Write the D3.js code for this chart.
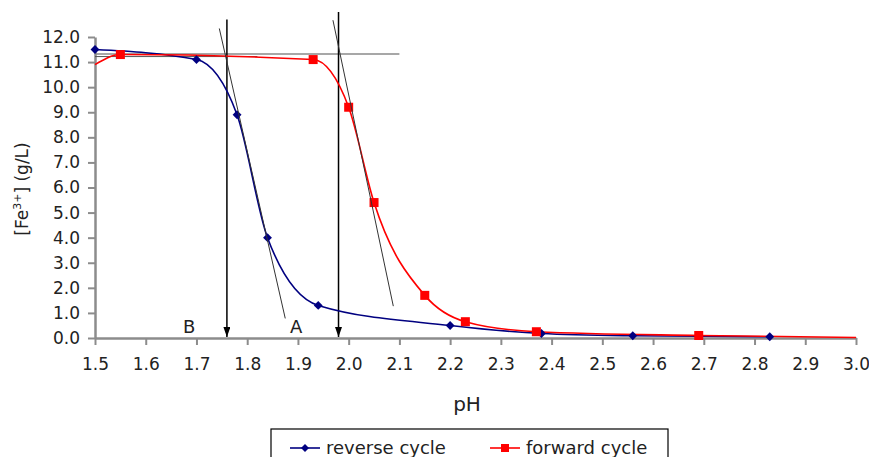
<!DOCTYPE html>
<html>
<head>
<meta charset="utf-8">
<script src="https://cdn.jsdelivr.net/npm/d3@7"></script>
<style>
  body { margin: 0; background: #fff; }
  text { font-family: "DejaVu Sans", Arial, sans-serif; fill: #222; }
</style>
</head>
<body>
<svg width="869" height="457"></svg>
<script>
// reverse cycle (blue diamonds)
const reversePH = [1.5, 1.7, 1.78, 1.84, 1.94, 2.2, 2.38, 2.56, 2.83];
const reverseFe = [11.5, 11.1, 8.9, 4.0, 1.3, 0.5, 0.18, 0.09, 0.05];
// forward cycle (red squares); first and last point have no visible marker
const forwardPH = [1.5, 1.55, 1.93, 2.0, 2.05, 2.15, 2.23, 2.37, 2.69, 3.0];
const forwardFe = [10.9, 11.3, 11.1, 9.2, 5.4, 1.7, 0.65, 0.25, 0.1, 0.02];
const xTicks = d3.range(15, 31).map(d => d / 10);
const yTicks = d3.range(0, 13);
// construction lines
const plateau = [[1.5, 11.32], [2.1, 11.32]];
const plateauShort = [[1.5, 11.22], [1.82, 11.22]];
const tangentA = [[1.745, 12.34], [1.875, 0.78]];
const tangentB = [[1.969, 12.67], [2.088, 1.27]];
const arrowB = [[1.76, 12.7], 1.76];
const arrowA = [[1.98, 13.0], 1.98];

const svg = d3.select('svg');
const x = d3.scaleLinear().domain([1.5, 3.0]).range([95, 856]);
const y = d3.scaleLinear().domain([0, 12]).range([338, 37]);

const axisColor = '#8c8c8c';

const xAxis = svg.append('g')
  .attr('transform', `translate(0,${y(0)})`)
  .call(d3.axisBottom(x).tickValues(xTicks).tickFormat(d3.format('.1f')).tickSize(7).tickSizeOuter(0));
const yAxis = svg.append('g')
  .attr('transform', `translate(${x(1.5)},0)`)
  .call(d3.axisLeft(y).tickValues(yTicks).tickFormat(d3.format('.1f')).tickSize(7).tickSizeOuter(0));
[xAxis, yAxis].forEach(g => {
  g.select('.domain').attr('stroke', axisColor).attr('stroke-width', 2.5);
  g.selectAll('.tick line').attr('stroke', axisColor).attr('stroke-width', 2);
  g.selectAll('.tick text').style('font-size', '17px').attr('fill', '#222');
});
xAxis.selectAll('.tick text').attr('y', 32).attr('dy', null);
yAxis.selectAll('.tick text').attr('x', -15);

// arrow marker
svg.append('defs').append('marker')
  .attr('id', 'arrow')
  .attr('viewBox', '0 0 10 10')
  .attr('refX', 10).attr('refY', 5)
  .attr('markerWidth', 10).attr('markerHeight', 7)
  .attr('markerUnits', 'userSpaceOnUse')
  .attr('orient', 'auto')
  .attr('preserveAspectRatio', 'none')
  .append('path').attr('d', 'M0,0L10,5L0,10Z').attr('fill', '#000');

const line = d3.line().x(d => x(d[0])).y(d => y(d[1]));

svg.append('path').attr('d', line(plateau))
  .attr('stroke', '#8a8a8a').attr('stroke-width', 1.6).attr('fill', 'none');
svg.append('path').attr('d', line(plateauShort))
  .attr('stroke', '#555').attr('stroke-width', 1).attr('fill', 'none');

[arrowB, arrowA].forEach(a => {
  svg.append('line')
    .attr('x1', x(a[0][0])).attr('y1', y(a[0][1]))
    .attr('x2', x(a[1])).attr('y2', y(0) - 1)
    .attr('stroke', '#000').attr('stroke-width', 1.5)
    .attr('marker-end', 'url(#arrow)');
});

// series
const reverse = reversePH.map((p, i) => [p, reverseFe[i]]);
const forward = forwardPH.map((p, i) => [p, forwardFe[i]]);
const smooth = d3.line().x(d => x(d[0])).y(d => y(d[1])).curve(d3.curveMonotoneX);

svg.append('path').attr('d', smooth(reverse))
  .attr('stroke', '#000080').attr('stroke-width', 1.6).attr('fill', 'none');
svg.append('path').attr('d', smooth(forward))
  .attr('stroke', '#ff0000').attr('stroke-width', 1.6).attr('fill', 'none');

const diamond = d3.symbol(d3.symbolDiamond2, 50)();
svg.selectAll('.rev').data(reverse).enter().append('path')
  .attr('class', 'rev')
  .attr('d', diamond)
  .attr('transform', d => `translate(${x(d[0])},${y(d[1])})`)
  .attr('fill', '#000080');
svg.selectAll('.fwd').data(forward.filter(d => d[0] > 1.5 && d[0] < 3.0)).enter().append('rect')
  .attr('class', 'fwd')
  .attr('x', d => x(d[0]) - 4.5).attr('y', d => y(d[1]) - 4.5)
  .attr('width', 9).attr('height', 9)
  .attr('fill', '#ff0000');

// tangents
[tangentA, tangentB].forEach(t => {
  svg.append('path').attr('d', line(t))
    .attr('stroke', '#333').attr('stroke-width', 1).attr('fill', 'none');
});

// letters
svg.append('text').attr('x', 183).attr('y', 333).text('B').style('font-size', '18px');
svg.append('text').attr('x', 290).attr('y', 333).text('A').style('font-size', '18px');

// axis titles
svg.append('text').attr('x', 467).attr('y', 411).attr('text-anchor', 'middle')
  .style('font-size', '20px').text('pH');
const yt = svg.append('text')
  .attr('transform', 'translate(28,189) rotate(-90)')
  .attr('text-anchor', 'middle')
  .style('font-size', '17px');
yt.append('tspan').text('[Fe');
yt.append('tspan').attr('dy', -7).style('font-size', '11px').text('3+');
yt.append('tspan').attr('dy', 7).text('] (g/L)');

// legend
const lg = svg.append('g');
lg.append('rect').attr('x', 271).attr('y', 429).attr('width', 397).attr('height', 40)
  .attr('fill', '#fff').attr('stroke', '#000').attr('stroke-width', 1.2);
lg.append('line').attr('x1', 290).attr('x2', 320).attr('y1', 448).attr('y2', 448)
  .attr('stroke', '#000080').attr('stroke-width', 1.6);
lg.append('path').attr('d', d3.symbol(d3.symbolDiamond2, 40)())
  .attr('transform', 'translate(305,448)').attr('fill', '#000080');
lg.append('text').attr('x', 326).attr('y', 454).style('font-size', '18px').text('reverse cycle');
lg.append('line').attr('x1', 490).attr('x2', 520).attr('y1', 448).attr('y2', 448)
  .attr('stroke', '#ff0000').attr('stroke-width', 1.6);
lg.append('rect').attr('x', 501).attr('y', 444).attr('width', 8).attr('height', 8).attr('fill', '#ff0000');
lg.append('text').attr('x', 526).attr('y', 454).style('font-size', '18px').text('forward cycle');
</script>
</body>
</html>
